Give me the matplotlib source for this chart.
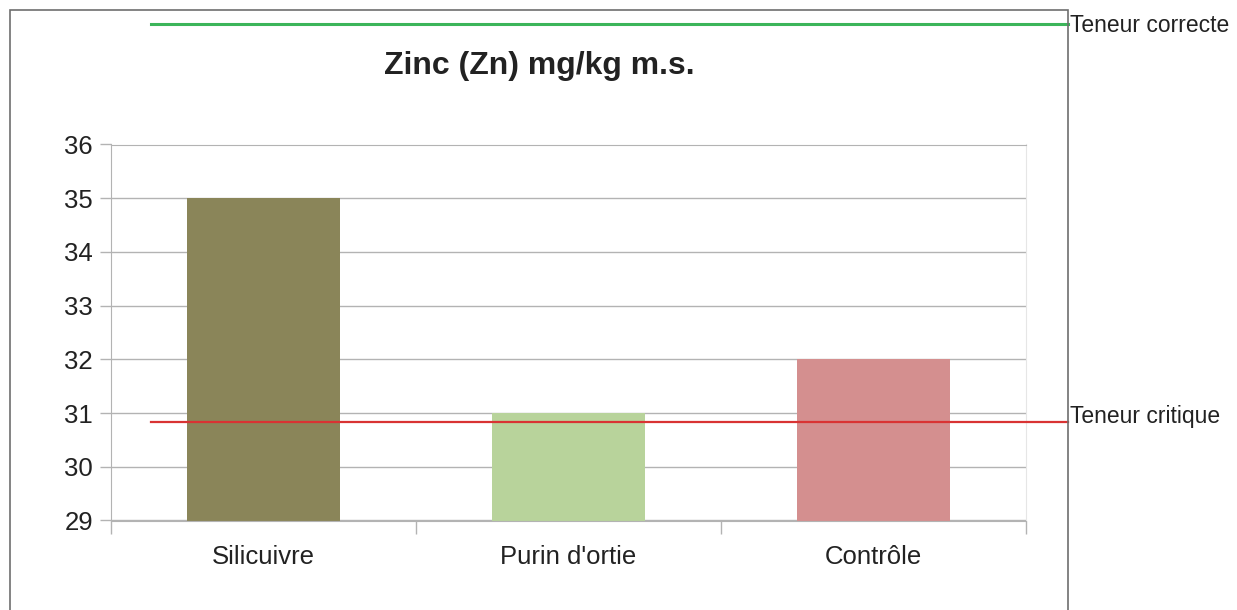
import matplotlib.pyplot as plt
from matplotlib.patches import Rectangle

# Données
categories = ["Silicuivre", "Purin d'ortie", "Contrôle"]
zinc = [35, 31, 32]
bar_colors = ["#8a8559", "#b8d39b", "#d48f8f"]
teneur_correcte = 38.25
teneur_critique = 30.83

plt.rcParams['font.family'] = ['Liberation Sans', 'DejaVu Sans']

fig = plt.figure(figsize=(12.37, 6.10), dpi=100)
W, H = 1237, 610

# zone du graphique (pixels)
left, right, top, bottom = 111, 1026, 144.5, 520.5
ax = fig.add_axes([left / W, 1 - bottom / H, (right - left) / W, (bottom - top) / H])

# cadre extérieur
fig.patches.append(Rectangle((10 / W, -0.1), (1068 - 10) / W, (1 - 10 / H) + 0.1,
                             transform=fig.transFigure, fill=False,
                             edgecolor="#6e6e6e", linewidth=1.2))

x = list(range(len(categories)))
ax.bar(x, zinc, width=0.5, color=bar_colors, bottom=0, zorder=2)

ax.set_xlim(-0.5, len(categories) - 0.5)
ax.set_ylim(29, 36)
ax.set_yticks(range(29, 37))
ax.yaxis.grid(True, color="#b3b3b3", linewidth=1, zorder=0)
ax.set_axisbelow(True)

ax.set_xticks(x)
ax.set_xticklabels(categories, fontsize=18.5, color="#222222")
ax.set_xticks([-0.5, 0.5, 1.5, 2.5], minor=True)
ax.tick_params(axis="x", which="major", length=0, pad=18)
ax.tick_params(axis="x", which="minor", length=9, width=1, color="#b3b3b3")
ax.tick_params(axis="y", length=8, width=1, color="#b3b3b3", pad=5,
               labelsize=18.5, labelcolor="#222222")

for s in ["left", "bottom", "top"]:
    ax.spines[s].set_color("#b3b3b3")
ax.spines["right"].set_color("#e6e6e6")

# lignes de référence
x0 = (151 - left) / (right - left)
x1 = (1068 - left) / (right - left)
ax.axhline(teneur_correcte, xmin=x0, xmax=x1, color="#3cb55a", linewidth=2.2,
           clip_on=False, zorder=3)
ax.axhline(teneur_critique, xmin=x0, xmax=x1, color="#d93333", linewidth=1.6,
           clip_on=False, zorder=3)
ax.text(x1 + 0.002, teneur_correcte - 0.03, "Teneur correcte", transform=ax.get_yaxis_transform(),
        fontsize=16.5, color="#222222", va="center", ha="left", clip_on=False)
ax.text(x1 + 0.002, teneur_critique + 0.1, "Teneur critique", transform=ax.get_yaxis_transform(),
        fontsize=16.5, color="#222222", va="center", ha="left", clip_on=False)

fig.text(539 / W, 1 - 66 / H, "Zinc (Zn) mg/kg m.s.", fontsize=23, fontweight="bold",
         color="#222222", ha="center", va="center")

fig.savefig("out.png", dpi=100)
